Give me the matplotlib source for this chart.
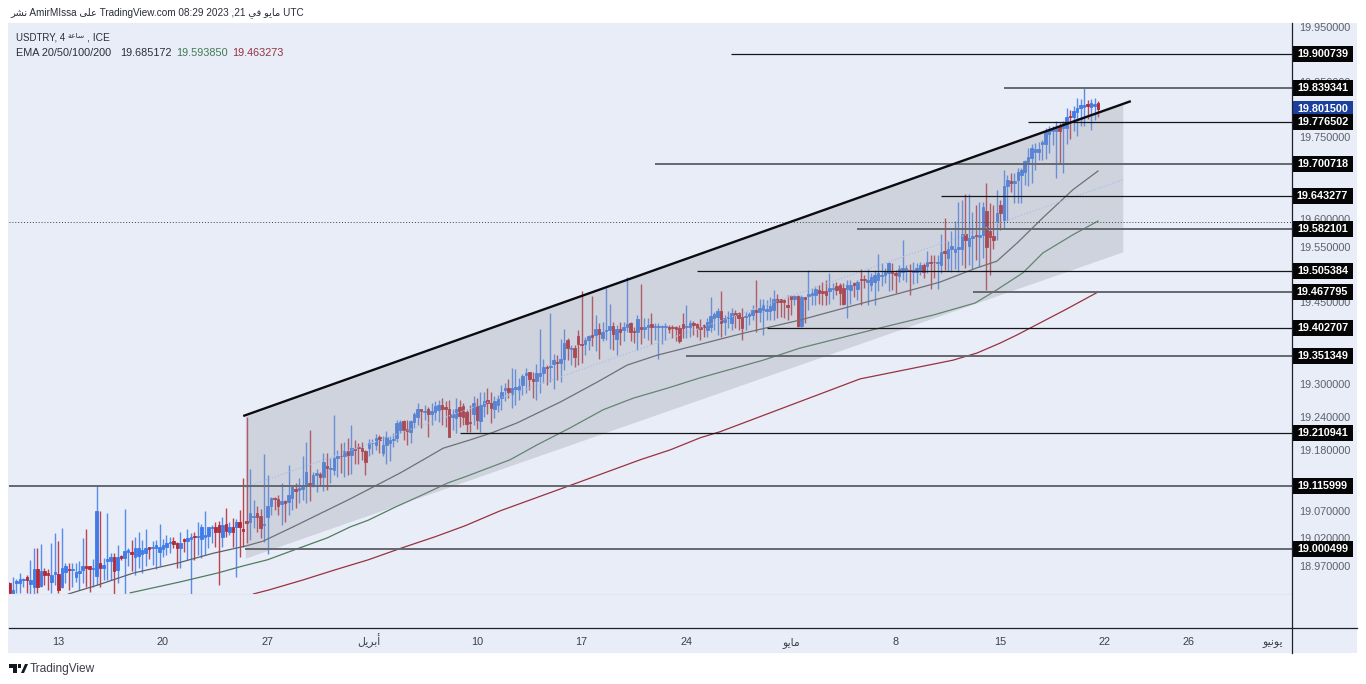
import matplotlib
matplotlib.use('Agg')
import matplotlib.pyplot as plt
from matplotlib.lines import Line2D
from matplotlib.patches import Rectangle, Polygon
import numpy as np

opens = [18.938,18.917,18.938,18.938,18.944,18.949,18.937,18.932,18.964,18.933,
18.960,18.957,18.941,18.955,18.955,18.932,18.958,18.964,18.962,18.950,
18.957,18.963,18.970,18.969,18.964,18.952,18.975,18.966,18.978,18.978,
18.986,18.963,18.988,18.985,18.996,18.996,18.987,18.988,18.992,18.993,
19.004,19.002,19.002,18.996,19.000,19.005,19.011,19.016,19.011,19.002,
19.018,19.015,19.018,19.024,19.023,19.018,19.023,19.024,19.038,19.040,
19.044,19.023,19.047,19.032,19.041,19.041,19.049,19.037,19.052,19.050,
19.058,19.067,19.061,19.045,19.058,19.079,19.094,19.091,19.083,19.088,
19.087,19.094,19.109,19.108,19.110,19.117,19.120,19.117,19.135,19.137,
19.132,19.152,19.146,19.144,19.167,19.170,19.169,19.179,19.172,19.183,
19.187,19.184,19.179,19.184,19.193,19.190,19.205,19.176,19.190,19.194,
19.198,19.202,19.217,19.233,19.218,19.214,19.232,19.241,19.255,19.250,
19.255,19.247,19.250,19.253,19.262,19.258,19.256,19.241,19.238,19.258,
19.261,19.249,19.232,19.247,19.260,19.234,19.260,19.272,19.266,19.255,
19.263,19.275,19.289,19.294,19.283,19.291,19.290,19.299,19.317,19.323,
19.310,19.306,19.316,19.320,19.332,19.332,19.337,19.341,19.338,19.347,
19.381,19.364,19.366,19.388,19.373,19.373,19.380,19.389,19.389,19.400,
19.384,19.397,19.399,19.406,19.383,19.401,19.398,19.404,19.412,19.397,
19.396,19.404,19.401,19.404,19.410,19.405,19.405,19.405,19.404,19.405,
19.405,19.404,19.402,19.410,19.404,19.404,19.412,19.409,19.404,19.408,
19.399,19.405,19.421,19.422,19.433,19.414,19.420,19.412,19.429,19.429,
19.422,19.422,19.424,19.427,19.436,19.432,19.436,19.434,19.434,19.436,
19.455,19.455,19.453,19.444,19.461,19.455,19.461,19.406,19.458,19.461,
19.462,19.463,19.472,19.469,19.469,19.469,19.473,19.479,19.481,19.475,
19.473,19.472,19.484,19.473,19.491,19.491,19.487,19.481,19.487,19.489,
19.497,19.499,19.503,19.506,19.503,19.497,19.505,19.506,19.508,19.505,
19.505,19.508,19.517,19.515,19.523,19.523,19.521,19.517,19.543,19.530,
19.547,19.540,19.547,19.547,19.574,19.552,19.566,19.572,19.568,19.572,
19.615,19.578,19.570,19.597,19.626,19.599,19.661,19.670,19.666,19.672,
19.680,19.686,19.705,19.712,19.722,19.723,19.737,19.737,19.755,19.760,
19.760,19.769,19.766,19.767,19.788,19.787,19.795,19.803,19.805,19.809,
19.805,19.807,19.811]

closes = [18.920,18.926,18.942,18.947,18.947,18.944,18.944,18.964,18.932,18.961,
18.954,18.954,18.954,18.958,18.926,18.966,18.970,18.962,18.964,18.958,
18.961,18.970,18.967,18.964,18.966,19.069,18.967,18.972,18.982,18.986,
18.960,18.987,18.984,18.997,18.998,18.991,19.002,19.003,18.999,19.002,
19.001,19.004,19.008,19.004,19.008,19.011,19.013,19.010,19.002,19.012,
19.015,19.020,19.023,19.022,19.025,19.040,19.026,19.040,19.041,19.032,
19.031,19.044,19.034,19.040,19.032,19.050,19.041,19.034,19.048,19.067,
19.060,19.058,19.038,19.047,19.078,19.094,19.092,19.079,19.088,19.084,
19.098,19.113,19.106,19.112,19.113,19.140,19.118,19.135,19.139,19.131,
19.158,19.148,19.148,19.167,19.170,19.169,19.178,19.171,19.184,19.181,
19.185,19.178,19.159,19.193,19.194,19.203,19.199,19.190,19.204,19.199,
19.200,19.230,19.232,19.217,19.215,19.233,19.247,19.256,19.252,19.252,
19.247,19.252,19.260,19.262,19.256,19.255,19.205,19.246,19.256,19.243,
19.241,19.228,19.230,19.266,19.235,19.263,19.270,19.266,19.257,19.270,
19.273,19.287,19.293,19.286,19.293,19.296,19.297,19.315,19.321,19.310,
19.306,19.320,19.321,19.331,19.330,19.334,19.344,19.338,19.347,19.376,
19.366,19.367,19.349,19.373,19.372,19.381,19.388,19.387,19.400,19.391,
19.396,19.399,19.406,19.392,19.400,19.396,19.405,19.409,19.396,19.396,
19.418,19.401,19.405,19.408,19.404,19.407,19.407,19.407,19.407,19.400,
19.402,19.400,19.378,19.402,19.406,19.411,19.408,19.402,19.400,19.405,
19.414,19.424,19.428,19.433,19.412,19.421,19.422,19.430,19.427,19.421,
19.403,19.424,19.428,19.436,19.432,19.438,19.444,19.437,19.443,19.455,
19.450,19.450,19.450,19.440,19.456,19.461,19.406,19.458,19.455,19.464,
19.467,19.473,19.467,19.466,19.463,19.475,19.476,19.472,19.466,19.446,
19.481,19.481,19.481,19.487,19.489,19.489,19.490,19.496,19.499,19.502,
19.499,19.506,19.521,19.502,19.498,19.509,19.511,19.511,19.506,19.508,
19.512,19.517,19.505,19.523,19.521,19.522,19.523,19.540,19.538,19.547,
19.552,19.547,19.549,19.574,19.563,19.567,19.570,19.569,19.572,19.623,
19.549,19.568,19.563,19.611,19.612,19.660,19.672,19.666,19.670,19.686,
19.690,19.706,19.714,19.729,19.728,19.728,19.741,19.761,19.763,19.764,
19.766,19.760,19.775,19.787,19.787,19.797,19.803,19.808,19.808,19.807,
19.811,19.810,19.801]

highs = [18.941,18.949,18.947,18.957,18.948,18.954,18.981,19.002,19.003,19.010,
18.966,18.964,19.011,19.029,19.015,19.038,18.975,18.976,18.975,18.975,
18.979,19.021,19.037,18.970,18.983,19.117,19.069,18.984,19.066,18.993,
18.994,19.008,18.990,19.074,19.002,19.017,19.023,19.032,19.017,19.037,
19.005,19.016,19.017,19.047,19.018,19.026,19.023,19.023,19.014,19.032,
19.020,19.037,19.029,19.032,19.050,19.047,19.069,19.041,19.044,19.050,
19.052,19.058,19.075,19.050,19.057,19.056,19.072,19.129,19.241,19.147,
19.090,19.078,19.073,19.173,19.135,19.096,19.096,19.099,19.120,19.090,
19.153,19.117,19.120,19.129,19.169,19.196,19.217,19.141,19.147,19.141,
19.175,19.175,19.166,19.244,19.181,19.194,19.196,19.202,19.226,19.198,
19.193,19.196,19.181,19.200,19.200,19.210,19.208,19.206,19.216,19.206,
19.212,19.235,19.236,19.236,19.235,19.235,19.249,19.267,19.256,19.262,
19.258,19.267,19.269,19.272,19.276,19.269,19.272,19.256,19.275,19.272,
19.266,19.253,19.262,19.279,19.275,19.287,19.287,19.293,19.287,19.278,
19.281,19.299,19.302,19.309,19.329,19.328,19.311,19.319,19.329,19.323,
19.323,19.337,19.400,19.347,19.335,19.430,19.356,19.353,19.382,19.400,
19.384,19.372,19.372,19.398,19.469,19.387,19.390,19.460,19.426,19.411,
19.414,19.475,19.446,19.414,19.408,19.414,19.414,19.495,19.414,19.405,
19.426,19.483,19.420,19.421,19.429,19.411,19.411,19.408,19.411,19.408,
19.408,19.406,19.408,19.430,19.444,19.417,19.415,19.411,19.418,19.410,
19.420,19.458,19.432,19.438,19.470,19.426,19.434,19.438,19.436,19.432,
19.438,19.432,19.432,19.444,19.490,19.455,19.456,19.453,19.459,19.472,
19.464,19.456,19.455,19.463,19.463,19.463,19.463,19.463,19.459,19.508,
19.475,19.479,19.481,19.487,19.490,19.502,19.485,19.487,19.484,19.484,
19.490,19.490,19.487,19.490,19.509,19.499,19.509,19.502,19.508,19.537,
19.520,19.511,19.523,19.521,19.508,19.517,19.563,19.517,19.519,19.523,
19.520,19.523,19.520,19.543,19.535,19.535,19.535,19.573,19.603,19.560,
19.578,19.597,19.632,19.635,19.646,19.646,19.614,19.626,19.632,19.632,
19.667,19.629,19.627,19.654,19.635,19.690,19.681,19.684,19.684,19.693,
19.693,19.708,19.729,19.737,19.738,19.741,19.744,19.766,19.769,19.769,
19.778,19.775,19.778,19.802,19.799,19.807,19.820,19.819,19.838,19.817,
19.819,19.820,19.815]

lows = [18.915,18.915,18.920,18.920,18.932,18.920,18.917,18.917,18.920,18.932,
18.935,18.926,18.920,18.935,18.920,18.929,18.938,18.926,18.932,18.941,
18.926,18.938,18.932,18.923,18.932,18.935,18.932,18.944,18.944,18.944,
18.917,18.938,18.981,18.917,18.969,18.961,18.954,18.966,18.957,18.969,
18.982,18.972,18.964,18.970,18.986,18.990,18.993,19.002,18.966,18.966,
18.996,18.981,18.917,18.981,18.990,18.984,18.990,19.002,19.011,19.005,
18.935,19.005,19.023,19.026,19.005,18.950,18.987,19.005,19.011,19.017,
19.038,19.032,19.020,19.014,18.991,19.063,19.072,19.063,19.044,19.050,
19.063,19.072,19.075,19.084,19.090,19.084,19.088,19.114,19.105,19.117,
19.107,19.108,19.120,19.135,19.132,19.139,19.131,19.135,19.137,19.156,
19.156,19.163,19.135,19.169,19.173,19.181,19.176,19.169,19.156,19.161,
19.187,19.196,19.211,19.199,19.190,19.193,19.220,19.226,19.220,19.235,
19.204,19.226,19.235,19.232,19.226,19.223,19.204,19.217,19.211,19.223,
19.226,19.214,19.214,19.226,19.218,19.214,19.241,19.246,19.230,19.238,
19.249,19.253,19.269,19.275,19.257,19.263,19.272,19.281,19.284,19.290,
19.275,19.272,19.285,19.302,19.299,19.305,19.291,19.308,19.305,19.326,
19.344,19.335,19.332,19.335,19.338,19.353,19.363,19.369,19.360,19.347,
19.378,19.381,19.364,19.363,19.353,19.372,19.378,19.396,19.378,19.376,
19.363,19.373,19.384,19.381,19.373,19.381,19.347,19.373,19.381,19.393,
19.384,19.378,19.375,19.384,19.384,19.387,19.390,19.387,19.381,19.387,
19.387,19.396,19.399,19.390,19.387,19.390,19.402,19.399,19.402,19.399,
19.381,19.398,19.408,19.417,19.396,19.414,19.390,19.417,19.417,19.417,
19.420,19.423,19.420,19.417,19.426,19.444,19.405,19.404,19.411,19.435,
19.444,19.444,19.447,19.444,19.444,19.447,19.456,19.463,19.444,19.444,
19.420,19.447,19.459,19.453,19.444,19.475,19.444,19.469,19.444,19.469,
19.478,19.484,19.469,19.472,19.466,19.487,19.490,19.487,19.463,19.482,
19.484,19.499,19.494,19.502,19.474,19.494,19.474,19.502,19.508,19.506,
19.505,19.510,19.505,19.517,19.512,19.517,19.510,19.526,19.514,19.529,
19.472,19.499,19.547,19.563,19.581,19.585,19.597,19.650,19.629,19.629,
19.629,19.663,19.660,19.666,19.690,19.708,19.708,19.710,19.720,19.735,
19.675,19.700,19.684,19.737,19.747,19.760,19.751,19.770,19.770,19.782,
19.763,19.781,19.787]

ema_gray_x = [16.9,25.2,35.5,48.1,58.4,67.6,72.7,81.3,97.7,112,118.6,124.3,132,138.7,145.5,157.9,168.4,177,185.6,198,210.3,226.6,244.6,255.3,266.7,277.3,283,288.8,296.2,304.8,312]
ema_gray = [18.919,18.935,18.957,18.975,18.993,19.006,19.015,19.041,19.092,19.139,19.163,19.184,19.199,19.213,19.230,19.268,19.304,19.335,19.353,19.373,19.393,19.417,19.448,19.466,19.486,19.512,19.524,19.557,19.603,19.654,19.688]
ema_green_x = [34.6,49,59.6,67,73.9,83.3,91.1,97.7,102.8,110.6,118.3,125.7,130.6,143.5,151.2,160.7,170.2,178.8,188.5,198,216,226.6,236,250.4,264.7,276.8,283,290.5,296.2,304.8,312]
ema_green = [18.921,18.941,18.957,18.970,18.981,19.003,19.021,19.041,19.053,19.077,19.099,19.121,19.132,19.163,19.190,19.221,19.254,19.275,19.293,19.312,19.344,19.366,19.381,19.404,19.426,19.448,19.472,19.503,19.539,19.572,19.597]
ema_red_x = [69.9,74.2,83.9,93.4,102.8,112.6,122,130.6,140.6,163.6,180.8,189.4,198,203.7,243.8,270.4,277.3,283.9,288.8,303,312]
ema_red = [18.919,18.926,18.944,18.963,18.981,19.003,19.023,19.043,19.070,19.123,19.163,19.181,19.203,19.214,19.310,19.344,19.357,19.375,19.390,19.437,19.468]

# horizontal levels: price, first bar, heavy or thin
level_prices = [19.900739,19.839341,19.776502,19.700718,19.643277,19.582101,19.505384,19.467795,19.402707,19.351349,19.210941,19.115999,19.000499]
level_start = [206.8,285,291.9,185,267,243,197,276.2,217,194,129.2,-1,67.6]
level_heavy = [0,1,0,1,0,1,0,1,0,1,0,1,1]

channel_x = [67.6,319.1]
channel_top = [19.242,19.810]
channel_mid = [19.113,19.672]
channel_bottom = [18.984,19.541]
trend_x = [67,321.4]
trend_y = [19.2425,19.815]
last_price = 19.8015
prev_close = 19.595

ytick_vals = [19.95,19.85,19.75,19.65,19.60,19.55,19.45,19.30,19.24,19.18,19.07,19.02,18.97]
xtick_pos = [14,44,74,103,134,164,194,224,254,284,314,338,362]
# arabic in presentation forms, visual order: matplotlib does no shaping
AR_APR = '\uFEDE\uFEF3\uFEAE\uFE91\uFE83'
AR_MAY = '\uFEEE\uFEF3\uFE8E\uFEE3'
AR_JUN = '\uFEEE\uFEF4\uFEE7\uFEEE\uFEF3'
AR_PUB = '\uFEAE\uFEB8\uFEE7'
AR_ON = '\uFEF0\uFEE0\uFECB'
AR_IN = '\uFEF2\uFED3'
AR_HOUR = '\uFE94\uFECB\uFE8E\uFEB3'
xtick_labels = ['13','20','27',AR_APR,'10','17','24',AR_MAY,'8','15','22','26',AR_JUN]

plt.rcParams['font.family'] = ['Liberation Sans','DejaVu Sans']
W, H = 1366, 684
BG = '#E9EDF8'
BLUE = '#3F7BE8'
RED = '#B22833'

def px_axes(x0, y0, x1, y1):
    return fig.add_axes([x0/W, 1-y1/H, (x1-x0)/W, (y1-y0)/H])

fig = plt.figure(figsize=(W/100, H/100), dpi=100, facecolor='white')
fig.add_artist(Rectangle((8/W, 1-653/H), 1349/W, 630/H, transform=fig.transFigure, color=BG, lw=0, zorder=-5))

ax = px_axes(9, 22, 1292, 594)
ax.set_facecolor('none')
xlim = (-0.14, 367.6)
ax.set_xlim(*xlim)
ax.set_ylim(18.9189, 19.9589)

x = np.arange(len(closes))
o, c, h, l = map(np.array, (opens, closes, highs, lows))
up = c >= o
cols = np.where(up, BLUE, RED)
ax.vlines(x, l, h, colors=list(cols), lw=1.0, alpha=0.85, zorder=2)
ax.bar(x, np.abs(c-o), bottom=np.minimum(o, c), width=0.72, color=list(cols), edgecolor=list(cols), lw=0.6, zorder=2.1)

ax.plot(ema_gray_x, ema_gray, color='#5f6063', lw=0.9, zorder=2.5)
ax.plot(ema_green_x, ema_green, color='#4f7d5d', lw=0.9, zorder=2.5)
ax.plot(ema_red_x, ema_red, color='#98323f', lw=0.9, zorder=2.5)

# channel and trend
ax.fill_between(channel_x, channel_bottom, channel_top, color='#9598a1', alpha=0.3, lw=0, zorder=3)
ax.plot(channel_x, channel_mid, color='#a9bfe8', lw=0.9, ls=(0, (1, 1.5)), zorder=3.1)
ax.plot(trend_x, trend_y, color='#0b0b10', lw=1.7, zorder=4, solid_capstyle='butt')

ax.axhline(prev_close, color='#2f4a40', lw=0.7, ls=(0, (1, 2)), zorder=3.2)
for p, s, heavy in zip(level_prices, level_start, level_heavy):
    ax.plot([s, xlim[1]], [p, p], color='#65686f' if heavy else '#15161a', lw=1.4 if heavy else 0.9, zorder=3.5, solid_capstyle='butt')

ax.set_xticks([])
ax.yaxis.tick_right()
ax.set_yticks(ytick_vals)
ax.set_yticklabels(['%.6f' % v for v in ytick_vals])
ax.tick_params(axis='y', length=0, pad=5.5, labelsize=7.8, labelcolor='#5c6068')
for s in ('top', 'left', 'right'):
    ax.spines[s].set_visible(False)
ax.spines['bottom'].set_color('#E3E6EF')
ax.spines['bottom'].set_linewidth(0.8)

# price tags on the axis
tag_h = 0.0145
tag_w = 61/1283
ytrans = ax.get_yaxis_transform()
def tag(p, col, z):
    ax.add_patch(Rectangle((1.0, p-tag_h), tag_w, 2*tag_h, transform=ytrans, clip_on=False, color=col, lw=0, zorder=z))
    ax.text(1.0+tag_w/2, p, '%.6f' % p, transform=ytrans, color='white', fontsize=7.8, fontweight='bold', ha='center', va='center', clip_on=False, zorder=z+0.1)
tag(last_price, '#1B3F9E', 10)
for i, p in enumerate(level_prices):
    tag(p, '#050505', 11)

# time axis
ax2 = px_axes(9, 594, 1292, 628)
ax2.set_facecolor('none')
ax2.set_xlim(*xlim)
ax2.set_yticks([])
ax2.set_xticks(xtick_pos)
ax2.set_xticklabels(xtick_labels, va='baseline')
ax2.tick_params(axis='x', length=0, pad=12, labelsize=7.8, labelcolor='#3c3f47')
for s in ('top', 'left', 'right', 'bottom'):
    ax2.spines[s].set_visible(False)

fig.add_artist(Line2D([1292/W, 1292/W], [1-23/H, 1-653/H], color='#1c2030', lw=0.9))
fig.add_artist(Line2D([9/W, 1357/W], [1-628/H, 1-628/H], color='#1c2030', lw=0.9))

# header and legend
fig.text(10/W, 1-13/H, AR_PUB+' AmirMIssa '+AR_ON+' TradingView.com 08:29 2023 ,21 '+AR_IN+' '+AR_MAY+' UTC', fontsize=7.2, color='#2a2e39', va='center')
fig.text(16/W, 1-37/H, 'USDTRY, 4', fontsize=7.0, color='#2a2e39', va='center')
fig.text(67/W, 1-37/H, AR_HOUR, fontsize=5.4, color='#2a2e39', va='center')
fig.text(87/W, 1-37/H, ', ICE', fontsize=7.4, color='#2a2e39', va='center')
fig.text(16/W, 1-53/H, 'EMA 20/50/100/200', fontsize=7.8, color='#2a2e39', va='center')
fig.text(120/W, 1-53/H, '19.685172', fontsize=7.8, color='#2a2e39', va='center')
fig.text(176/W, 1-53/H, '19.593850', fontsize=7.8, color='#3f7a55', va='center')
fig.text(232/W, 1-53/H, '19.463273', fontsize=7.8, color='#933241', va='center')

# TradingView mark
fig.add_artist(Polygon([(9/W, 1-664/H), (17/W, 1-664/H), (17/W, 1-673/H), (13/W, 1-673/H), (13/W, 1-668/H), (9/W, 1-668/H)], transform=fig.transFigure, color='#131722', lw=0))
fig.add_artist(Polygon([(21/W, 1-673/H), (25/W, 1-664/H), (28/W, 1-664/H), (24/W, 1-673/H)], transform=fig.transFigure, color='#131722', lw=0))
fig.add_artist(Rectangle((18/W, 1-668/H), 3/W, 4/H, transform=fig.transFigure, color='#131722', lw=0))
fig.text(30/W, 1-669/H, 'TradingView', fontsize=8.6, color='#3c3f47', va='center')

fig.savefig('out.png', dpi=100)
